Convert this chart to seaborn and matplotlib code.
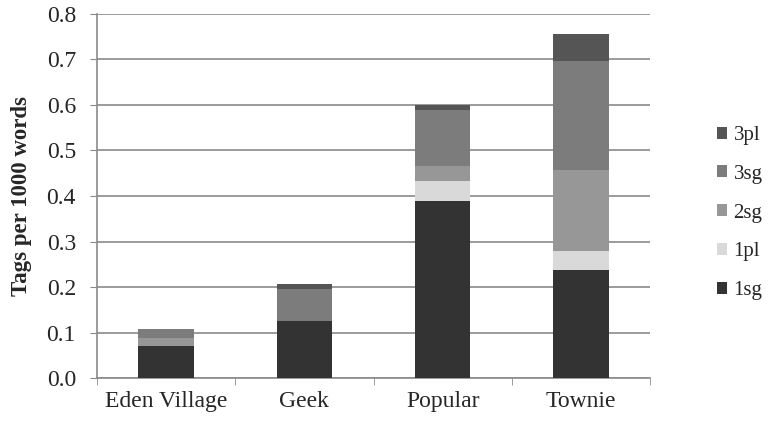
import numpy as np
import pandas as pd
import matplotlib
matplotlib.use("Agg")
import matplotlib.pyplot as plt
from matplotlib.patches import Patch
import seaborn as sns

# values (tags per 1000 words)
groups = ["Eden Village", "Geek", "Popular", "Townie"]
series = ["1sg", "1pl", "2sg", "3sg", "3pl"]
v_1sg = [0.070, 0.126, 0.390, 0.237]
v_1pl = [0.000, 0.000, 0.044, 0.042]
v_2sg = [0.019, 0.000, 0.033, 0.178]
v_3sg = [0.019, 0.070, 0.123, 0.240]
v_3pl = [0.000, 0.011, 0.011, 0.059]
colors = ["#333333", "#d9d9d9", "#979797", "#7c7c7c", "#555555"]

df = pd.DataFrame({"group": groups, "1sg": v_1sg, "1pl": v_1pl,
                   "2sg": v_2sg, "3sg": v_3sg, "3pl": v_3pl})
cum = df[series].cumsum(axis=1)

sns.set_style("white")
plt.rcParams["font.family"] = ["Liberation Serif", "DejaVu Serif"]

fig = plt.figure(figsize=(7.7, 4.22), dpi=100)
ax = fig.add_axes([0.1256, 0.104, 0.719, 0.863])

# stacked bars: draw cumulative totals from top down so each layer covers the rest
for s, c in reversed(list(zip(series, colors))):
    sns.barplot(x=df["group"], y=cum[s], color=c, width=0.4,
                saturation=1, ax=ax, linewidth=0, zorder=3)

ax.set_ylim(0, 0.8)
ax.set_xlim(-0.5, 3.5)
ax.set_yticks(np.arange(0, 0.81, 0.1))
ax.set_yticklabels(["%.1f" % t for t in np.arange(0, 0.81, 0.1)], fontsize=17)
ax.yaxis.grid(True, color="#8a8a8a", linewidth=1.2, zorder=0)
ax.set_axisbelow(True)
ax.set_xlabel("")
ax.set_ylabel("Tags per 1000 words", fontsize=16.5, fontweight="bold")
ax.yaxis.set_label_coords(-0.117, 0.5)
ax.tick_params(axis="x", length=0, labelsize=17, pad=9)
ax.tick_params(axis="y", length=5, color="#8a8a8a", direction="out", left=True, pad=10)
ax.set_xticks(np.arange(-0.5, 3.6, 1), minor=True)
ax.tick_params(axis="x", which="minor", length=5, color="#8a8a8a", bottom=True)
for side in ["top", "right"]:
    ax.spines[side].set_visible(False)
for side in ["left", "bottom"]:
    ax.spines[side].set_color("#8a8a8a")
    ax.spines[side].set_linewidth(1.2)

handles = [Patch(facecolor=c, edgecolor="none", label=s)
           for s, c in reversed(list(zip(series, colors)))]
fig.legend(handles=handles, loc="center left", bbox_to_anchor=(0.931, 0.495),
           frameon=False, fontsize=15, handlelength=0.5, handleheight=0.5,
           handletextpad=0.3, labelspacing=0.95, borderpad=0, borderaxespad=0)

fig.savefig("out.png", dpi=100)
